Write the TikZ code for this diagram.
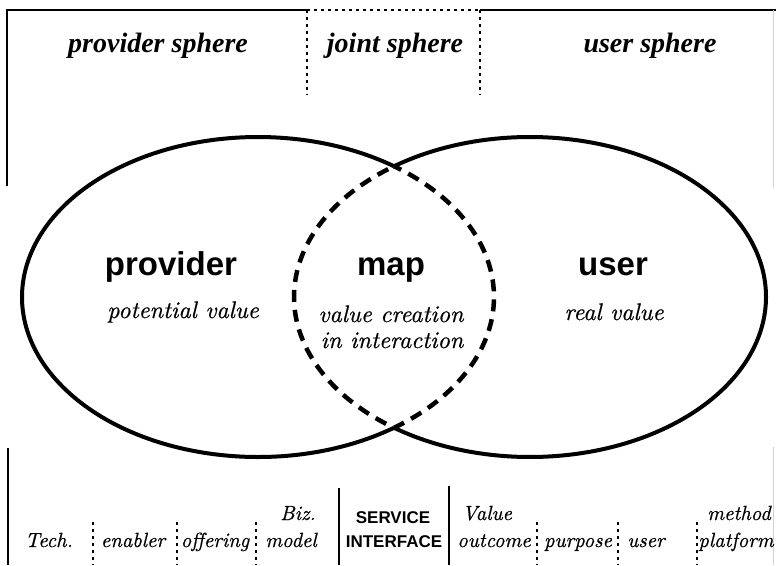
\documentclass[tikz,border=0pt]{standalone}
\usepackage{fontspec}
\newfontfamily\headfont{Liberation Serif}
\newfontfamily\sansb{Liberation Sans}
\newfontfamily\serifit{lmroman10-italic}[Extension=.otf, FakeBold=0.6]

\begin{document}
\begin{tikzpicture}[x=1pt,y=-1pt,
  frame/.style={line width=1.5pt},
  faint/.style={line width=1pt, black!18},
  sep/.style={line width=1.6pt, dash pattern=on 3pt off 4pt},
  lens/.style={line width=4pt},
  joint/.style={line width=4.5pt, dash pattern=on 12pt off 8pt, dash phase=4pt},
  radii/.style={x radius=236, y radius=160},
  sphere/.style={font=\headfont\bfseries\itshape\fontsize{28}{30}\selectfont, inner sep=0pt, anchor=base},
  actor/.style={font=\sansb\bfseries\fontsize{33}{36}\selectfont, inner sep=0pt, anchor=base},
  valuetxt/.style={font=\serifit\fontsize{24}{26}\selectfont, inner sep=0pt, anchor=base},
  layer/.style={font=\serifit\fontsize{20.5}{23}\selectfont, inner sep=0pt, anchor=base},
  iface/.style={font=\sansb\bfseries\fontsize{17}{19}\selectfont, inner sep=0pt, anchor=base},
]
\useasboundingbox (0,0) rectangle (776,565);

% frame of the three spheres
\draw[frame] (7,186) -- (7,10) -- (307,10);
\draw[sep] (307,10) -- (480,10);
\draw[frame] (480,10) -- (776,10);
\draw[sep] (307,10) -- (307,95);
\draw[sep] (480,10) -- (480,95);
\draw[faint] (773,10) -- (773,188);
\draw[faint] (773,447) -- (773,565);

% sphere headings
\node[sphere] (hprov) at (158,52) {provider sphere};
\node[sphere] (hjoint) at (395,52) {joint sphere};
\node[sphere] (huser) at (650,52) {user sphere};

% the two ellipses (centres 258 and 530) meet at these points
\coordinate (ltop) at (394,166.25);
\coordinate (lbot) at (394,427.75);

% outer arcs of provider and user ellipses
\draw[lens] (lbot) arc[start angle=54.81, end angle=305.19, radii];
\draw[lens] (ltop) arc[start angle=-125.19, end angle=125.19, radii];

% shared area, bounded by the inner arcs
\draw[joint] (ltop) arc[start angle=-54.81, end angle=54.81, radii]
                    arc[start angle=125.19, end angle=234.81, radii];

% labels inside the ellipses
\node[actor] (provider) at (171,275) {provider};
\node[actor] (map) at (391,275) {map};
\node[actor] (user) at (613,275) {user};
\node[valuetxt] (potential) at (183,318) {potential value};
\node[valuetxt] (creation) at (391,322) {value creation};
\node[valuetxt] (interaction) at (392,348) {in interaction};
\node[valuetxt] (real) at (614,320) {real value};

% layer dividers at the bottom
\draw[frame] (8,448) -- (8,565);
\draw[frame] (339,488) -- (339,565);
\draw[frame] (449,486) -- (449,565);
\foreach \xx in {93,177,256,537,618,697}
  \draw[sep] (\xx,522) -- (\xx,565);

% layer labels
\node[layer] (tech) at (49,547) {Tech.};
\node[layer] (enabler) at (133,547) {enabler};
\node[layer] (offering) at (215,547) {offering};
\node[layer] (biz) at (298,520) {Biz.};
\node[layer] (model) at (291,547) {model};
\node[iface] (service) at (393,523) {SERVICE};
\node[iface] (interface) at (394,547) {INTERFACE};
\node[layer] (valueb) at (487,520) {Value};
\node[layer] (outcome) at (494,547) {outcome};
\node[layer] (purpose) at (578,547) {purpose};
\node[layer] (userb) at (646,547) {user};
\node[layer] (method) at (739,520) {method};
\node[layer] (platform) at (736,547) {platform};
\end{tikzpicture}
\end{document}
